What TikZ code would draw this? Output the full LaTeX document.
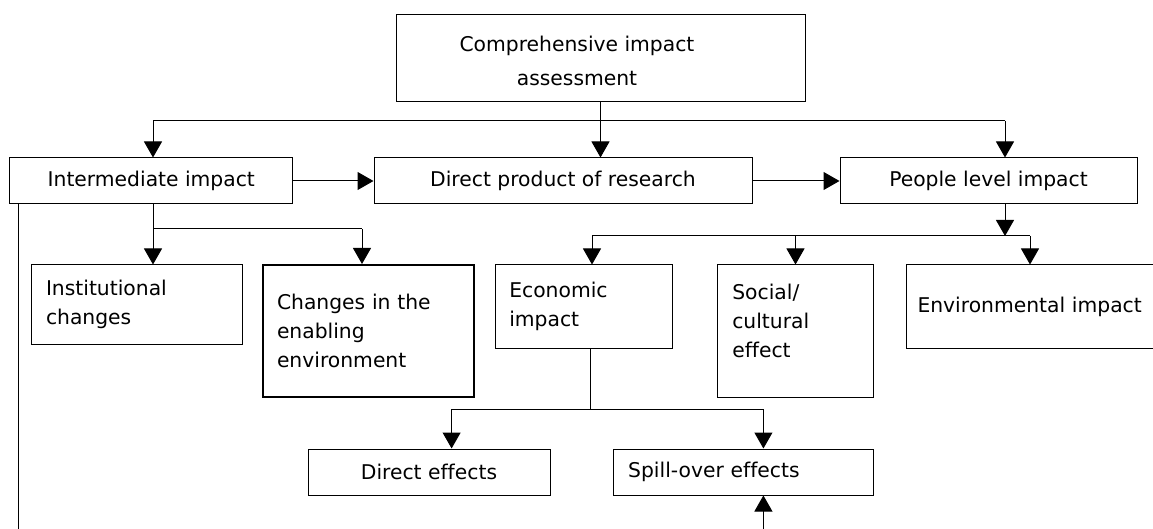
\documentclass[tikz,border=0pt]{standalone}
\usepackage{fontspec}
\setmainfont{DejaVu Sans}[Ligatures=NoCommon]
\usetikzlibrary{arrows.meta}
\begin{document}
\begin{tikzpicture}[x=1pt,y=-1pt,
  box/.style={draw, line width=1pt, inner sep=0pt, font=\fontsize{20.3}{29}\selectfont},
  lbox/.style={box, align=left},
  ln/.style={line width=1pt},
  arr/.style={ln, -{Triangle[length=16pt,width=18pt]}},
]
\useasboundingbox (0,0) rectangle (1153,529);
\clip (0,0) rectangle (1153,529);

% boxes
\node[box, minimum width=409pt, minimum height=87pt] (top) at (600.5,58.5) {};
\node[font=\fontsize{20.3}{34}\selectfont, align=center, inner sep=0pt] (toptext) at (577,61) {Comprehensive impact\\assessment};
\node[box, minimum width=283pt, minimum height=46pt] (inter) at (151.3,181) {Intermediate impact};
\node[box, minimum width=378pt, minimum height=46pt] (direct) at (563,181) {Direct product of research};
\node[box, minimum width=297pt, minimum height=46pt] (people) at (988.5,181) {People level impact};

\node[lbox, minimum width=211pt, minimum height=79pt, text width=181pt] (inst) at (136.5,304.5) {Institutional\\changes};
\node[lbox, line width=2pt, minimum width=211pt, minimum height=132pt, text width=183pt] (changes) at (368.5,331) {Changes in the\\enabling\\environment};
\node[lbox, minimum width=177pt, minimum height=83pt, text width=150pt] (econ) at (584.3,306.5) {Economic\\impact};
\node[lbox, minimum width=156pt, minimum height=132pt, text width=127pt] (social) at (795.8,331) {Social/\\cultural\\effect\\[-9pt]\mbox{}};
\node[lbox, minimum width=263pt, minimum height=83pt, text width=241pt] (env) at (1038,306.5) {Environmental impact};

\node[box, minimum width=242pt, minimum height=46pt] (deff) at (429,472) {Direct effects};
\node[lbox, minimum width=260pt, minimum height=46pt, text width=230pt] (spill) at (743.2,472) {Spill-over effects};

% junction coordinates
\coordinate (h1) at (153,121);
\coordinate (h2) at (1005,121);
\coordinate (b1) at (153,229);
\coordinate (b2) at (362,229);
\coordinate (lb) at (18.4,529);
\coordinate (e1) at (592,236);
\coordinate (e2) at (795.5,236);
\coordinate (e3) at (1030,236);
\coordinate (p1) at (1005,236);
\coordinate (s0) at (590,409);
\coordinate (s1) at (451.6,409);
\coordinate (s2) at (763.4,409);
\coordinate (sb) at (763.4,529);

% connectors
\draw[ln] (h1) -- (h2);
\draw[arr] (top.south) -- (top.south |- direct.north);
\draw[arr] (h1) -- (h1 |- inter.north);
\draw[arr] (h2) -- (h2 |- people.north);
\draw[arr] (inter.east) -- (direct.west);
\draw[arr] (direct.east) -- (people.west);

\draw[arr] (b1 |- inter.south) -- (b1 |- inst.north);
\draw[ln] (b1) -- (b2);
\draw[arr] (b2) -- (b2 |- changes.north);
\draw[ln] (lb |- inter.south) -- (lb);

\draw[arr] (p1 |- people.south) -- (p1);
\draw[ln] (e1) -- (e3);
\draw[arr] (e1) -- (e1 |- econ.north);
\draw[arr] (e2) -- (e2 |- social.north);
\draw[arr] (e3) -- (e3 |- env.north);

\draw[ln] (s0 |- econ.south) -- (s0);
\draw[ln] (s1) -- (s2);
\draw[arr] (s1) -- (s1 |- deff.north);
\draw[arr] (s2) -- (s2 |- spill.north);
\draw[arr] (sb) -- (sb |- spill.south);
\end{tikzpicture}
\end{document}
